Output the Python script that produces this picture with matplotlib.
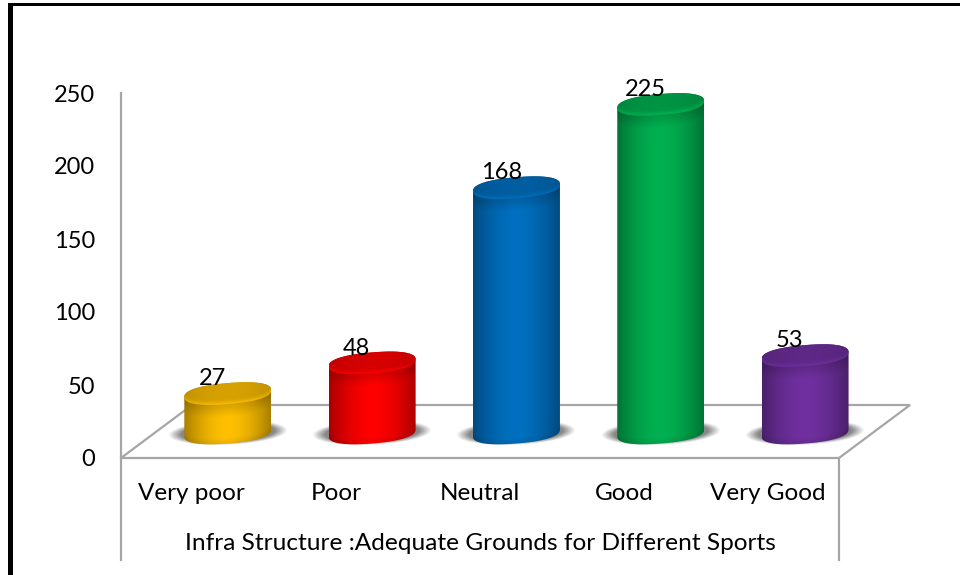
import numpy as np
import matplotlib
matplotlib.use("Agg")
import matplotlib.pyplot as plt
from matplotlib.colors import to_rgb
from matplotlib.path import Path
from matplotlib.patches import PathPatch, Polygon, Rectangle

plt.rcParams['font.family'] = ['Lato', 'DejaVu Sans']

categories = ["Very poor", "Poor", "Neutral", "Good", "Very Good"]
values = [27, 48, 168, 225, 53]
colors = ["#FFC000", "#FF0000", "#0070C0", "#00B050", "#7030A0"]
yticks = [0, 50, 100, 150, 200, 250]
xlabel = "Infra Structure :Adequate Grounds for Different Sports"

W, H = 960, 575
L, R, T, B = 121, 839, 93, 458  # plot area in pixels

fig = plt.figure(figsize=(W / 100, H / 100), dpi=100)
ax = fig.add_axes([L / W, 1 - B / H, (R - L) / W, (B - T) / H])
ax.patch.set_alpha(0)

# one pixel in data units
px = 5 / (R - L)
py = 250 / (B - T)
grey = "#A6A6A6"

for s in ["top", "right", "bottom"]:
    ax.spines[s].set_visible(False)
ax.spines["left"].set_color(grey)
ax.spines["left"].set_linewidth(1.6)
ax.set_yticks(yticks)
ax.set_xticks([])
ax.tick_params(axis="y", length=0, pad=18.7, labelsize=17)

# floor of the 3d box
depth_x, depth_y = 71 * px, 53 * py
ax.add_patch(Polygon([(-0.5, 0), (4.5, 0), (4.5 + depth_x, depth_y), (-0.5 + depth_x, depth_y)],
                     closed=True, fill=False, edgecolor=grey, linewidth=1.6, clip_on=False, zorder=1))
# the lines under the axis, around the labels
ax.plot([-0.5, -0.5], [0, -102 * py], color=grey, lw=1.6, clip_on=False)
ax.plot([4.5, 4.5], [0, -102 * py], color=grey, lw=1.6, clip_on=False)

rx, ry, shear = 43.5, 10.5, 3.5
base_x, base_y = 35, 25
step = 1.005
p = 0.85  # below 1 makes the ellipse a bit boxy


def rim(t):
    # ellipse in pixels, sheared so that the right side sits higher
    c, s = np.cos(t), np.sin(t)
    x = np.sign(c) * np.abs(c) ** p
    y = np.sign(s) * np.abs(s) ** p
    return rx * x, ry * y + shear * x


def front_edge(u):
    # lower edge of the rim for u in -1..1
    c = np.abs(u) ** (1 / p)
    return -ry * np.sqrt(np.clip(1 - c ** 2, 0, 1)) ** p + shear * u


def clip_image(im, verts):
    patch = PathPatch(Path(np.r_[verts, verts[:1]], closed=True), transform=ax.transData,
                      facecolor="none", edgecolor="none")
    ax.add_patch(patch)
    im.set_clip_path(patch)
    im.set_clip_box(fig.bbox)


for i, (v, c) in enumerate(zip(values, colors)):
    col = np.array(to_rgb(c))
    cx = i * step + base_x * px
    y0 = base_y * py
    y1 = y0 + v
    z = 3 + i

    # shadow on the floor
    gx, gy = np.meshgrid(np.linspace(-1, 1, 120), np.linspace(1, -1, 60))
    r = np.hypot(gx, gy - 0.2 * gx)
    shadow = np.zeros((60, 120, 4))
    shadow[..., :3] = 0.45
    shadow[..., 3] = np.clip((1 - r) * 4, 0, 0.85)
    ax.imshow(shadow, extent=[cx - 60 * px, cx + 60 * px, y0 - 12 * py, y0 + 13 * py],
              aspect="auto", zorder=2, interpolation="bilinear", clip_on=False)

    # body, shaded from the edges to the middle and darker under the lid
    n_h = int((y1 - y0) / py) + 40
    u, h = np.meshgrid(np.linspace(-1, 1, 175), np.linspace(20 + (y1 - y0) / py, -20, n_h))
    edge = front_edge(u)
    below_lid = (y1 - y0) / py + edge - h
    above_base = h - edge
    shade = 0.66 + 0.34 * (1 - np.abs(u) ** 1.8)
    shade = shade * (0.84 + 0.16 * np.clip(below_lid / 13, 0, 1))
    shade = shade * (0.92 + 0.08 * np.clip(above_base / 6, 0, 1))
    grad = (col[None, None, :] * shade[..., None]).clip(0, 1)
    im = ax.imshow(grad, extent=[cx - rx * px, cx + rx * px, y0 - 20 * py, y1 + 20 * py],
                   aspect="auto", zorder=z)
    tx, ty = rim(np.linspace(np.pi, 0, 60))
    bx, by = rim(np.linspace(0, -np.pi, 60))
    clip_image(im, np.column_stack([np.r_[cx + tx * px, cx + bx * px],
                                    np.r_[y1 + ty * py, y0 + by * py]]))

    # lid, dark with a soft lighter rim at the front
    u, h = np.meshgrid(np.linspace(-1, 1, 175), np.linspace(15, -15, 60))
    above_rim = h - front_edge(u)
    shade = 0.76 + 0.08 * (1 - u ** 2) + 0.14 * np.exp(-(above_rim / 3) ** 2)
    lid = (col[None, None, :] * shade[..., None]).clip(0, 1)
    im2 = ax.imshow(lid, extent=[cx - rx * px, cx + rx * px, y1 - 15 * py, y1 + 15 * py],
                    aspect="auto", zorder=z + 0.5)
    lx, ly = rim(np.linspace(0, 2 * np.pi, 120))
    clip_image(im2, np.column_stack([cx + lx * px, y1 + ly * py]))

    # value label
    ax.annotate(str(v), (cx, y1), xytext=(-11, 6), textcoords="offset points", ha="center",
                va="baseline", fontsize=17, color="black", zorder=20, annotation_clip=False)

ax.set_xlim(-0.5, 4.5)
ax.set_ylim(0, 250)

for i, name in enumerate(categories):
    ax.text(i * 1.003 - 1 * px, -36 * py, name, ha="center", va="center", fontsize=17.5, color="black")
ax.text(2, -86 * py, xlabel, ha="center", va="center", fontsize=17.6, color="black")

# black frame of the picture, only top and left are in the crop
fig.add_artist(Rectangle((8 / W, 0), 5 / W, 1 - 3 / H, transform=fig.transFigure, color="black", lw=0))
fig.add_artist(Rectangle((8 / W, 1 - 6 / H), 1 - 8 / W, 3 / H, transform=fig.transFigure, color="black", lw=0))

fig.savefig("out.png", dpi=100)
